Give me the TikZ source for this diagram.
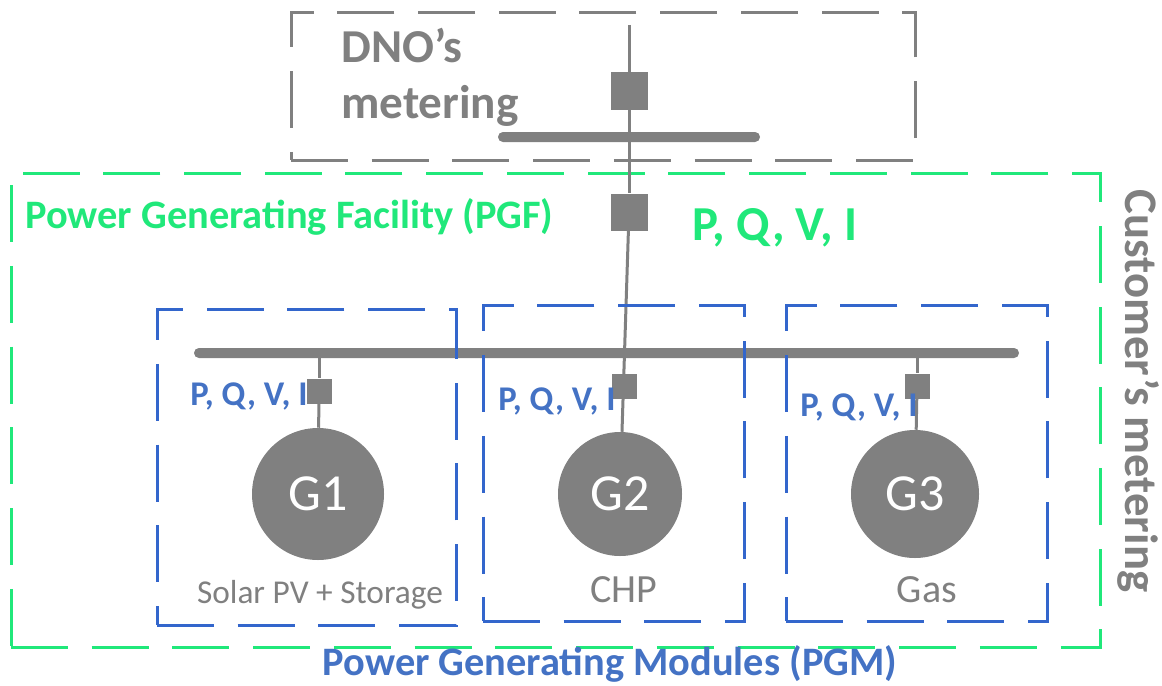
\documentclass[tikz,border=0pt]{standalone}
\usepackage{fontspec}
\setmainfont{Carlito}
\definecolor{pgfgreen}{HTML}{20E87A}
\definecolor{pgmline}{HTML}{3366CC}
\definecolor{pgmtext}{HTML}{4472C4}
\definecolor{meshgrey}{HTML}{808080}
\tikzset{
  frame/.style = {line width=2.25pt, dash pattern=on 42.75pt off 17.8pt},
  wire/.style = {draw=meshgrey, line width=2.25pt},
  meter/.style = {rectangle, fill=meshgrey, inner sep=0pt},
  bigmeter/.style = {meter, minimum size=27.75pt},
  smallmeter/.style = {meter, minimum size=18.75pt},
  busbar/.style = {rectangle, fill=meshgrey, inner sep=0pt, minimum height=7.5pt, rounded corners=3.7pt},
  gen/.style = {circle, fill=meshgrey, text=white, inner sep=0pt, font=\fontsize{39}{39}\selectfont},
  typelabel/.style = {text=meshgrey, inner sep=0pt, font=\fontsize{25}{25}\selectfont},
  pgmlabel/.style = {text=pgmtext, inner sep=0pt, font=\fontsize{26}{26}\selectfont\bfseries},
  biglabel/.style = {inner sep=0pt, font=\fontsize{30.3}{30.3}\selectfont\bfseries},
}
\begin{document}
\begin{tikzpicture}[x=0.75pt, y=-0.75pt]
\useasboundingbox (0,0) rectangle (1162,685);
%outer frames
\draw[frame, pgfgreen] (11,647) -| (1100,173) -| (11,647) -- cycle;
\draw[frame, meshgrey] (291,160) -| (915,13) -| (291,160) -- cycle;
%buses
\node [busbar, minimum width=196.5pt] (bus1) at (629,137) {};
\node [busbar, minimum width=618.75pt] (bus2) at (606.5,353) {};
%meters
\coordinate (feed) at (629,25);
\node [bigmeter] (mdno) at (629,91) {};
\node [bigmeter] (mpgf) at (629,212) {};
\node [smallmeter] (m1) at (319,391) {};
\node [smallmeter] (m2) at (624,386) {};
\node [smallmeter] (m3) at (917,386) {};
%generators
\node [gen, minimum size=99pt] (g1) at (318,494) {G1};
\node [gen, minimum size=93pt] (g2) at (620,494) {G2};
\node [gen, minimum size=96pt] (g3) at (915,494) {G3};
%wires
\draw[wire] (feed) -- (mdno);
\draw[wire] (mdno) -- (mpgf);
\draw[wire] (mpgf) -- (g2);
\draw[wire] (bus2.south -| m1) -- (m1);
\draw[wire] (m1) -- (g1);
\draw[wire] (bus2.south -| m3) -- (m3);
\draw[wire] (m3) -- (g3);
%module frames
\draw[frame, pgmline] (157,625) -| (456,309) -| (157,625) -- cycle;
\draw[frame, pgmline] (483,621) -| (744,305) -| (483,621) -- cycle;
\draw[frame, pgmline] (786,621) -| (1047,305) -| (786,621) -- cycle;
%labels
\node [biglabel, text=meshgrey, align=left, anchor=north west, font=\fontsize{35.4}{42}\selectfont\bfseries] (dno) at (341,28) {DNO’s\\metering};
\node [biglabel, text=pgfgreen, anchor=west] (pgf) at (25,217) {Power Generating Facility (PGF)};
\node [biglabel, text=pgfgreen, anchor=west, font=\fontsize{36.6}{36.6}\selectfont\bfseries] (pqvi) at (692,228) {P, Q, V, I};
\node [biglabel, text=meshgrey, rotate=-90, font=\fontsize{35}{35}\selectfont\bfseries] (cust) at (1139,391) {Customer’s metering};
\node [biglabel, text=pgmtext] (pgm) at (610,664) {Power Generating Modules (PGM)};
\node [pgmlabel, anchor=west] (pqvi1) at (190,396) {P, Q, V, I};
\node [pgmlabel, anchor=west] (pqvi2) at (498,401) {P, Q, V, I};
\node [pgmlabel, anchor=west] (pqvi3) at (800,407) {P, Q, V, I};
\node [typelabel] (solar) at (320,595) {Solar PV + Storage};
\node [typelabel, font=\fontsize{30}{30}\selectfont] (chp) at (624,590) {CHP};
\node [typelabel, font=\fontsize{30}{30}\selectfont] (gas) at (927,590) {Gas};
\end{tikzpicture}
\end{document}
